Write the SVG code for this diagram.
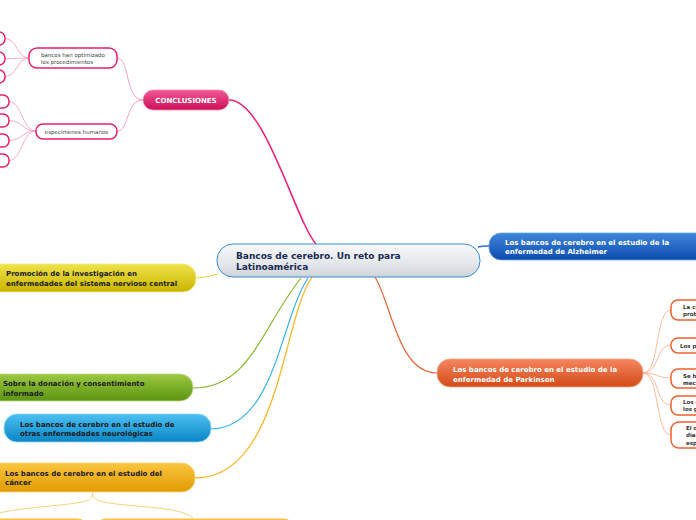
<svg xmlns="http://www.w3.org/2000/svg" width="696" height="520" viewBox="0 0 696 520">
<defs>
<linearGradient id="gCenter" x1="0" y1="0" x2="0" y2="1"><stop offset="0" stop-color="#f7f8fa"/><stop offset="0.6" stop-color="#e4e7ea"/><stop offset="1" stop-color="#cfd4d9"/></linearGradient>
<linearGradient id="gPink" x1="0" y1="0" x2="0" y2="1"><stop offset="0" stop-color="#f25892"/><stop offset="1" stop-color="#cc0f5a"/></linearGradient>
<linearGradient id="gBlue" x1="0" y1="0" x2="0" y2="1"><stop offset="0" stop-color="#3f86dc"/><stop offset="1" stop-color="#0d4cae"/></linearGradient>
<linearGradient id="gOrange" x1="0" y1="0" x2="0" y2="1"><stop offset="0" stop-color="#f58660"/><stop offset="1" stop-color="#d44a18"/></linearGradient>
<linearGradient id="gYellow" x1="0" y1="0" x2="0" y2="1"><stop offset="0" stop-color="#efe34a"/><stop offset="1" stop-color="#c9b400"/></linearGradient>
<linearGradient id="gGreen" x1="0" y1="0" x2="0" y2="1"><stop offset="0" stop-color="#9cc840"/><stop offset="1" stop-color="#5c9410"/></linearGradient>
<linearGradient id="gSky" x1="0" y1="0" x2="0" y2="1"><stop offset="0" stop-color="#4cc0f2"/><stop offset="1" stop-color="#0a86c6"/></linearGradient>
<linearGradient id="gGold" x1="0" y1="0" x2="0" y2="1"><stop offset="0" stop-color="#fac640"/><stop offset="1" stop-color="#e09a00"/></linearGradient>
</defs>
<style>
text{font-family:"DejaVu Sans","Verdana",sans-serif}
.main{font-size:7px;font-weight:bold}
.w{fill:#ffffff}
.k{fill:#1a1a1a}
.leaf{font-size:5.5px;fill:#444}
.rleaf{font-size:5.5px;fill:#333;font-weight:bold}
.pk{fill:#fff;stroke:#ea1f6c;stroke-width:1.5}
.or{fill:#fff;stroke:#f0602c;stroke-width:1.5}
.c{fill:none}
</style>
<g id="connectors">
<path class="c" d="M229,100 C265,100 295,220 316,244" stroke="#f0207a" stroke-width="1.6"/>
<path class="c" d="M143,100 C125,100 130,58 117,58" stroke="#f8a2c2" stroke-width="1"/>
<path class="c" d="M143,100 C125,100 130,131 117,131" stroke="#f8a2c2" stroke-width="1"/>
<path class="c" d="M29,58 C17,58 17,38.5 5,38.5" stroke="#f8a2c2" stroke-width="0.9"/>
<path class="c" d="M29,58 C17,58 17,58.5 5,58.5" stroke="#f8a2c2" stroke-width="0.9"/>
<path class="c" d="M29,58 C17,58 17,76.5 5,76.5" stroke="#f8a2c2" stroke-width="0.9"/>
<path class="c" d="M36,131 C22,131 22,101.5 9,101.5" stroke="#f8a2c2" stroke-width="0.9"/>
<path class="c" d="M36,131 C22,131 22,120.5 9,120.5" stroke="#f8a2c2" stroke-width="0.9"/>
<path class="c" d="M36,131 C22,131 22,140.5 9,140.5" stroke="#f8a2c2" stroke-width="0.9"/>
<path class="c" d="M36,131 C22,131 22,160.5 9,160.5" stroke="#f8a2c2" stroke-width="0.9"/>
<path class="c" d="M478,247 C482,246 485,246 489,246" stroke="#2a6cd0" stroke-width="1.5"/>
<path class="c" d="M375,277 C392,305 398,373 437,373" stroke="#f06030" stroke-width="1.2"/>
<path class="c" d="M643,373 C660,373 655,310 671,310" stroke="#f9b394" stroke-width="0.9"/>
<path class="c" d="M643,373 C660,373 655,345 671,345" stroke="#f9b394" stroke-width="0.9"/>
<path class="c" d="M643,373 C660,373 655,378 671,378" stroke="#f9b394" stroke-width="0.9"/>
<path class="c" d="M643,373 C660,373 655,405 671,405" stroke="#f9b394" stroke-width="0.9"/>
<path class="c" d="M643,373 C660,373 655,435 671,435" stroke="#f9b394" stroke-width="0.9"/>
<path class="c" d="M218,274 C210,276 204,278 196,278" stroke="#e6dc3c" stroke-width="1.2"/>
<path class="c" d="M301,278 C260,330 250,388 193,388" stroke="#86b828" stroke-width="1.2"/>
<path class="c" d="M308,278 C280,320 275,429 210,429" stroke="#3cb4ea" stroke-width="1.2"/>
<path class="c" d="M312,277 C282,320 280,478 195,478" stroke="#f6b828" stroke-width="1.3"/>
<path class="c" d="M92.5,493 C92.5,500 88,502 60,505 C30,508 10,510 -5,514" stroke="#f8d27a" stroke-width="1"/>
<path class="c" d="M92.5,493 C92.5,500 97,502 125,505 C160,508 185,510 193,518" stroke="#f8d27a" stroke-width="1"/>
</g>
<g id="central">
<rect x="217" y="244" width="263" height="33" rx="16" fill="url(#gCenter)" stroke="#3a8cd0" stroke-width="1"/>
<text x="236" y="259" font-size="9" font-weight="bold" fill="#1b2a52">Bancos de cerebro. Un reto para</text>
<text x="236" y="270" font-size="9" font-weight="bold" fill="#1b2a52">Latinoamérica</text>
</g>
<g id="conclusiones">
<rect x="143" y="90" width="86" height="20" rx="10" fill="url(#gPink)" stroke="#f48ab0" stroke-width="0.8"/>
<text x="186" y="102.5" class="main w" text-anchor="middle">CONCLUSIONES</text>
</g>
<g id="bancos-optimizado">
<rect x="29" y="48" width="88" height="20" rx="8" class="pk"/>
<text x="41" y="57" class="leaf">bancos han optimizado</text>
<text x="41" y="64" class="leaf">los procedimientos</text>
</g>
<g id="especimenes">
<rect x="36" y="124" width="81" height="15" rx="7" class="pk"/>
<text x="76.5" y="133.5" class="leaf" text-anchor="middle">especímenes humanos</text>
</g>
<g id="leaf-b1"><rect x="-40" y="32" width="45" height="13" rx="6" class="pk"/></g>
<g id="leaf-b2"><rect x="-40" y="52" width="45" height="13" rx="6" class="pk"/></g>
<g id="leaf-b3"><rect x="-40" y="70" width="45" height="13" rx="6" class="pk"/></g>
<g id="leaf-e1"><rect x="-40" y="95" width="49" height="13" rx="6" class="pk"/></g>
<g id="leaf-e2"><rect x="-40" y="114" width="49" height="13" rx="6" class="pk"/></g>
<g id="leaf-e3"><rect x="-40" y="134" width="49" height="13" rx="6" class="pk"/></g>
<g id="leaf-e4"><rect x="-40" y="154" width="49" height="13" rx="6" class="pk"/></g>
<g id="alzheimer">
<rect x="489" y="233" width="220" height="27" rx="12" fill="url(#gBlue)" stroke="#6aa4e8" stroke-width="0.8"/>
<text x="505" y="244.5" class="main w">Los bancos de cerebro en el estudio de la</text>
<text x="505" y="254" class="main w">enfermedad de Alzheimer</text>
</g>
<g id="parkinson">
<rect x="437" y="359" width="206" height="28" rx="13" fill="url(#gOrange)" stroke="#f8a888" stroke-width="0.8"/>
<text x="453" y="371.5" class="main w">Los bancos de cerebro en el estudio de la</text>
<text x="453" y="381.5" class="main w">enfermedad de Parkinson</text>
</g>
<g id="park-1">
<rect x="671" y="300" width="60" height="20" rx="7" class="or"/>
<text x="683" y="309" class="rleaf">La ca</text>
<text x="683" y="316" class="rleaf">prob</text>
</g>
<g id="park-2">
<rect x="671" y="338" width="60" height="15" rx="7" class="or"/>
<text x="680" y="347.5" class="rleaf">Los pr</text>
</g>
<g id="park-3">
<rect x="671" y="369" width="60" height="19" rx="7" class="or"/>
<text x="683" y="378" class="rleaf">Se h</text>
<text x="683" y="385" class="rleaf">meca</text>
</g>
<g id="park-4">
<rect x="671" y="396" width="60" height="19" rx="7" class="or"/>
<text x="683" y="404" class="rleaf">Los r</text>
<text x="683" y="411" class="rleaf">los g</text>
</g>
<g id="park-5">
<rect x="671" y="422" width="60" height="26" rx="8" class="or"/>
<text x="686" y="430" class="rleaf">El d</text>
<text x="686" y="437" class="rleaf">dian</text>
<text x="686" y="444.5" class="rleaf">esp</text>
</g>
<g id="promocion">
<rect x="-20" y="264" width="216" height="28" rx="13" fill="url(#gYellow)" stroke="#f4ec8a" stroke-width="0.8"/>
<text x="6" y="276" class="main k">Promoción de la investigación en</text>
<text x="6" y="285.5" class="main k">enfermedades del sistema nervioso central</text>
</g>
<g id="donacion">
<rect x="-20" y="374" width="213" height="27" rx="13" fill="url(#gGreen)" stroke="#bedc88" stroke-width="0.8"/>
<text x="3" y="386" class="main k">Sobre la donación y consentimiento</text>
<text x="3" y="395.5" class="main k">informado</text>
</g>
<g id="otras">
<rect x="4" y="414" width="207" height="28" rx="13" fill="url(#gSky)" stroke="#90d6f6" stroke-width="0.8"/>
<text x="20" y="426.5" class="main k">Los bancos de cerebro en el estudio de</text>
<text x="20" y="436" class="main k">otras enfermedades neurológicas</text>
</g>
<g id="cancer">
<rect x="-20" y="463" width="215" height="29" rx="13" fill="url(#gGold)" stroke="#fbd884" stroke-width="0.8"/>
<text x="5" y="475.5" class="main k">Los bancos de cerebro en el estudio del</text>
<text x="5" y="485" class="main k">cáncer</text>
</g>
<g id="cancer-1"><rect x="-20" y="519" width="106" height="20" rx="8" fill="url(#gGold)" stroke="#f8c040" stroke-width="1"/></g>
<g id="cancer-2"><rect x="97.5" y="519" width="195" height="20" rx="8" fill="url(#gGold)" stroke="#f8c040" stroke-width="1"/></g>
</svg>
